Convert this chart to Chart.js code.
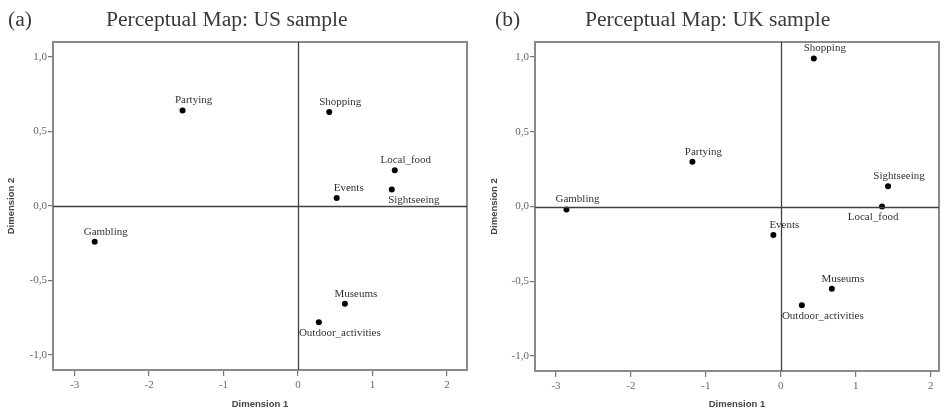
<!DOCTYPE html>
<html>
<head>
<meta charset="utf-8">
<script src="https://cdn.jsdelivr.net/npm/chart.js@4.4.1/dist/chart.umd.min.js"></script>
<style>
  body { margin: 0; background: #fff; }
  #wrap { position: relative; width: 945px; height: 412px; overflow: hidden; }
  .panel { position: absolute; top: 0; height: 412px; }
  .ttl { position: absolute; top: 9px; font-family: "Liberation Serif", "DejaVu Serif", serif; font-size: 21.6px; line-height: 21px; color: #3a3a3a; white-space: nowrap; }
</style>
</head>
<body>
<div id="wrap">
  <div class="panel" style="left:0;width:470px"><canvas id="us-chart"></canvas></div>
  <div class="panel" style="left:470px;width:475px"><canvas id="uk-chart"></canvas></div>
  <div class="ttl" style="left:8px">(a)</div>
  <div class="ttl" style="left:106px">Perceptual Map: US sample</div>
  <div class="ttl" style="left:495px">(b)</div>
  <div class="ttl" style="left:585px">Perceptual Map: UK sample</div>
</div>
<script>
const attributes = ['Partying', 'Gambling', 'Shopping', 'Local_food', 'Events', 'Sightseeing', 'Museums', 'Outdoor_activities']

// US sample coordinates
const usDim1 = [-1.55, -2.73, 0.42, 1.30, 0.52, 1.26, 0.63, 0.28]
const usDim2 = [0.64, -0.24, 0.63, 0.24, 0.054, 0.11, -0.655, -0.78]

// UK sample coordinates
const ukDim1 = [-1.18, -2.86, 0.44, 1.35, -0.10, 1.43, 0.68, 0.28]
const ukDim2 = [0.30, -0.02, 0.99, 0.0, -0.19, 0.135, -0.55, -0.66]

const xTicks = [-3, -2, -1, 0, 1, 2]
const yTicks = [-1.0, -0.5, 0.0, 0.5, 1.0]

const serif = '"Liberation Serif", "DejaVu Serif", serif'

// frame, zero lines and point labels
const mapPlugin = {
    id: 'mapDecor',
    afterDatasetsDraw(chart, args, opts) {
        const {ctx, chartArea: a, scales: {x, y}} = chart
        ctx.save()
        ctx.strokeStyle = '#8a8a8a'
        ctx.lineWidth = 2
        ctx.strokeRect(a.left, a.top, a.right - a.left, a.bottom - a.top)

        ctx.strokeStyle = '#404040'
        ctx.lineWidth = 1.3
        const x0 = Math.round(x.getPixelForValue(0)) + 0.5
        const y0 = Math.round(y.getPixelForValue(0)) + 0.5
        ctx.beginPath()
        ctx.moveTo(x0, a.top); ctx.lineTo(x0, a.bottom)
        ctx.moveTo(a.left, y0); ctx.lineTo(a.right, y0)
        ctx.stroke()

        ctx.font = '11px ' + serif
        ctx.fillStyle = '#333'
        ctx.textAlign = 'center'
        ctx.textBaseline = 'middle'
        const meta = chart.getDatasetMeta(0)
        meta.data.forEach((pt, i) => {
            const name = attributes[i]
            const below = opts.below.includes(name)
            const dx = opts.dx[name] !== undefined ? opts.dx[name] : 11
            ctx.fillText(name, pt.x + dx, pt.y + (below ? 11 : -10))
        })
        ctx.restore()
    }
}

function makeConfig(d1, d2, o) {
    return {
        type: 'scatter',
        data: {
            datasets: [{
                data: d1.map((v, i) => ({x: v, y: d2[i]})),
                backgroundColor: '#000',
                borderWidth: 0,
                pointRadius: 3,
                pointHoverRadius: 3,
            }]
        },
        options: {
            responsive: true,
            maintainAspectRatio: false,
            animation: false,
            events: [],
            layout: {padding: {top: 42, left: 0, right: o.padRight, bottom: 0}},
            plugins: {
                legend: {display: false},
                tooltip: {enabled: false},
                mapDecor: {below: o.below, dx: o.dx},
            },
            scales: {
                x: {
                    type: 'linear',
                    min: o.xMin,
                    max: o.xMax,
                    afterBuildTicks: (s) => { s.ticks = xTicks.map(v => ({value: v})) },
                    afterFit: (s) => { s.height = o.xHeight },
                    border: {display: false},
                    grid: {drawOnChartArea: false, drawTicks: true, tickLength: 6, color: '#777', lineWidth: 1.2},
                    ticks: {padding: 3, color: '#666', font: {family: serif, size: 11}, callback: v => String(v)},
                    title: {display: true, text: 'Dimension 1', color: '#444', padding: {top: 0, bottom: 2},
                        font: {family: '"Liberation Sans", Arial, sans-serif', size: 9.5, weight: 'bold'}},
                },
                y: {
                    type: 'linear',
                    min: -1.1,
                    max: 1.1,
                    afterBuildTicks: (s) => { s.ticks = yTicks.map(v => ({value: v})) },
                    afterFit: (s) => { s.width = o.yWidth },
                    border: {display: false},
                    grid: {drawOnChartArea: false, drawTicks: true, tickLength: 5, color: '#777', lineWidth: 1.2},
                    ticks: {padding: 1, color: '#666', font: {family: serif, size: 11},
                        callback: v => v.toFixed(1).replace('.', ',')},
                    title: {display: true, text: 'Dimension 2', color: '#444', padding: {top: o.yTitlePad, bottom: 0},
                        font: {family: '"Liberation Sans", Arial, sans-serif', size: 9.5, weight: 'bold'}},
                },
            }
        },
        plugins: [mapPlugin]
    }
}

new Chart(document.getElementById('us-chart'), makeConfig(usDim1, usDim2, {
    xMin: -3.29, xMax: 2.27, padRight: 2, xHeight: 42, yWidth: 53, yTitlePad: 6,
    below: ['Sightseeing', 'Outdoor_activities'],
    dx: {Sightseeing: 22, Outdoor_activities: 21, Events: 12},
}))

new Chart(document.getElementById('uk-chart'), makeConfig(ukDim1, ukDim2, {
    xMin: -3.28, xMax: 2.11, padRight: 6, xHeight: 41, yWidth: 65, yTitlePad: 19,
    below: ['Local_food', 'Outdoor_activities'],
    dx: {Local_food: -9, Outdoor_activities: 21},
}))
</script>
</body>
</html>
